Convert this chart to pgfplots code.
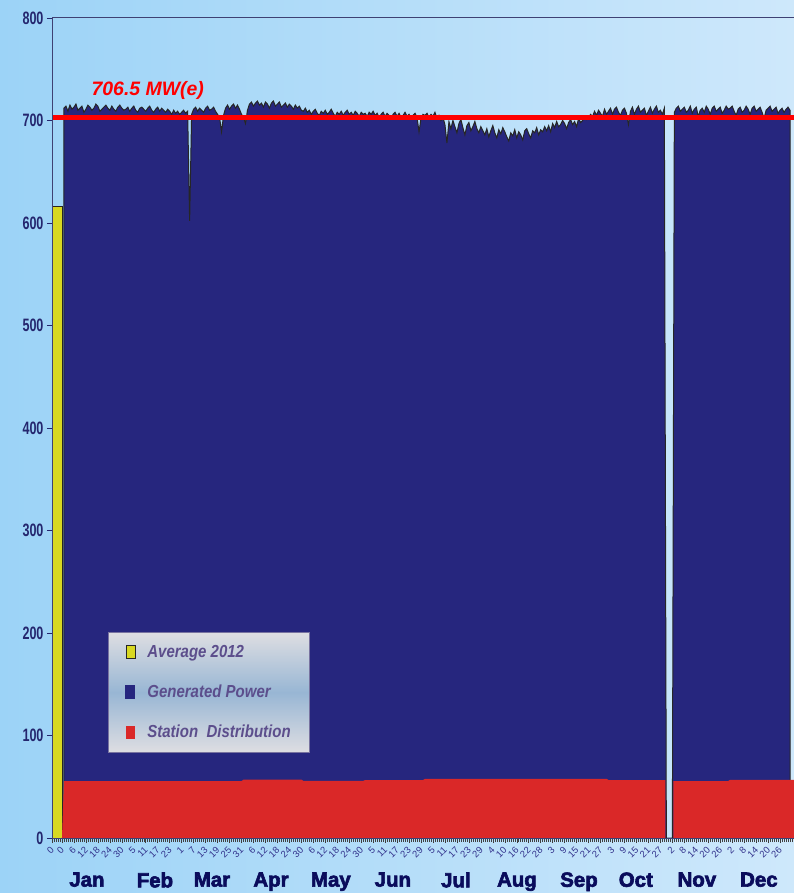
\documentclass[border=0pt]{standalone}
\usepackage{fontspec}
\setmainfont{Liberation Sans}
\newfontfamily\ynumfont[FakeStretch=0.7]{Liberation Sans}
\newfontfamily\legfont[FakeStretch=0.86]{Liberation Sans}
\newfontfamily\monthfont[FakeBold=3]{Liberation Sans}
\usepackage{pgfplots}
\pgfplotsset{compat=1.18}

\definecolor{bgL}{RGB}{156,211,247}
\definecolor{bgR}{RGB}{206,232,251}
\definecolor{genblue}{RGB}{38,38,126}
\definecolor{stred}{RGB}{218,40,40}
\definecolor{avyel}{RGB}{216,216,34}
\definecolor{navy}{RGB}{36,38,110}
\definecolor{daycol}{RGB}{50,50,140}
\definecolor{legtxt}{RGB}{92,78,140}
\definecolor{legtop}{RGB}{222,222,226}
\definecolor{legmid}{RGB}{152,182,212}
\definecolor{legborder}{RGB}{120,115,160}
\definecolor{monthcol}{RGB}{10,12,92}

\pgfplotsset{
  sqleg/.style={legend image code/.code={\draw[##1] (0bp,-6.5bp) rectangle (9bp,6.5bp); \path (19bp,0bp);}},
  sqfill/.style={legend image code/.code={\fill[#1] (0bp,-6.5bp) rectangle (9bp,6.5bp); \path (19bp,0bp);}},
}

\begin{document}
\begin{tikzpicture}
\path[use as bounding box, left color=bgL, right color=bgR] (-52bp,-55bp) rectangle (742bp,838bp);
\begin{axis}[
  width=742bp, height=820bp, scale only axis,
  xmin=-5, xmax=367, ymin=0, ymax=800,
  clip mode=individual,
  axis on top,
  tick pos=left,
  ytick={0,100,...,800},
  xtick={-5,0,6,12,18,24,30,36,42,48,54,60,66,72,78,84,90,96,102,108,114,120,126,132,138,144,150,156,162,168,174,180,186,192,198,204,210,216,222,228,234,240,246,252,258,264,270,276,282,288,294,300,306,312,318,324,330,336,342,348,354,360},
  xticklabels={0,0,6,12,18,24,30,5,11,17,23,1,7,13,19,25,31,6,12,18,24,30,6,12,18,24,30,5,11,17,23,29,5,11,17,23,29,4,10,16,22,28,3,9,15,21,27,3,9,15,21,27,2,8,14,20,26,2,8,14,20,26},
  minor xtick={-5,-4,...,367},
  tick align=outside,
  major tick length=5bp, minor tick length=4bp,
  xtick style={black!75, line width=0.5bp},
  ytick style={navy, line width=0.8bp},
  axis line style={black!75, line width=1bp},
  y axis line style={draw=navy!70!gray},
  /pgf/number format/assume math mode=true,
  yticklabel style={font=\ynumfont\bfseries\fontsize{18}{18}\selectfont, text=navy},
  xticklabel style={font=\fontsize{9.5}{9.5}\selectfont, text=daycol, rotate=45, anchor=east, yshift=-4bp},
  legend style={at={(0.0755,0.2512)}, anchor=north west, draw=legborder, line width=0.8bp,
    top color=legtop, bottom color=legtop, middle color=legmid,
    font=\legfont\bfseries\itshape\fontsize{17.5}{17.5}\selectfont, text=legtxt,
    inner xsep=17bp, inner ysep=11bp, row sep=22bp},
  legend cell align=left,
]
% Average 2012
\addplot[fill=avyel, draw=black!85, line width=0.6bp, sqleg]
  coordinates {(-5,616) (0.3,616)} \closedcycle;
\addlegendentry{Average 2012}

% Generated power, daily
\addplot[fill=genblue, draw=black!85, line width=1bp, sqfill=genblue]
  table[header=false, row sep=\\, x expr=\coordindex+1, y index=0] {
712\\ 714\\ 709\\ 715\\ 711\\ 713\\ 716\\ 710\\ 712\\ 714\\ 708\\ 711\\ 715\\ 713\\ 710\\ 712\\ 716\\ 714\\ 709\\ 711\\ 713\\ 715\\ 712\\ 710\\ 714\\ 711\\ 709\\ 713\\ 715\\ 712\\ 710\\
711\\ 713\\ 709\\ 712\\ 714\\ 710\\ 708\\ 712\\ 713\\ 711\\ 709\\ 712\\ 714\\ 710\\ 708\\ 711\\ 713\\ 709\\ 712\\ 710\\ 708\\ 711\\ 709\\ 706\\ 710\\ 707\\ 709\\ 706\\
708\\ 710\\ 707\\ 709\\ 602\\ 706\\ 711\\ 713\\ 709\\ 712\\ 710\\ 708\\ 712\\ 714\\ 710\\ 711\\ 713\\ 709\\ 706\\ 703\\ 689\\ 705\\ 712\\ 715\\ 711\\ 714\\ 716\\ 712\\ 715\\ 711\\ 706\\
703\\ 697\\ 710\\ 716\\ 718\\ 714\\ 717\\ 719\\ 715\\ 717\\ 713\\ 718\\ 716\\ 712\\ 717\\ 719\\ 714\\ 716\\ 718\\ 713\\ 715\\ 717\\ 713\\ 716\\ 714\\ 711\\ 715\\ 712\\ 714\\ 710\\
709\\ 712\\ 708\\ 710\\ 706\\ 709\\ 711\\ 707\\ 705\\ 709\\ 707\\ 710\\ 706\\ 708\\ 711\\ 707\\ 704\\ 708\\ 706\\ 709\\ 705\\ 708\\ 710\\ 706\\ 708\\ 705\\ 709\\ 707\\ 704\\ 708\\ 706\\
707\\ 704\\ 708\\ 706\\ 709\\ 705\\ 707\\ 703\\ 706\\ 708\\ 704\\ 707\\ 705\\ 702\\ 706\\ 708\\ 704\\ 707\\ 703\\ 705\\ 708\\ 704\\ 706\\ 702\\ 705\\ 707\\ 703\\ 689\\ 702\\ 706\\
705\\ 707\\ 703\\ 706\\ 704\\ 708\\ 702\\ 705\\ 700\\ 703\\ 696\\ 678\\ 699\\ 692\\ 700\\ 694\\ 688\\ 697\\ 701\\ 693\\ 686\\ 695\\ 698\\ 690\\ 694\\ 699\\ 692\\ 688\\ 694\\ 690\\ 686\\
692\\ 684\\ 690\\ 695\\ 688\\ 683\\ 691\\ 687\\ 693\\ 689\\ 684\\ 680\\ 688\\ 685\\ 691\\ 683\\ 689\\ 686\\ 681\\ 690\\ 692\\ 687\\ 683\\ 690\\ 688\\ 693\\ 686\\ 691\\ 689\\ 694\\ 690\\
695\\ 689\\ 697\\ 693\\ 699\\ 694\\ 696\\ 700\\ 697\\ 692\\ 698\\ 701\\ 696\\ 699\\ 694\\ 702\\ 698\\ 700\\ 704\\ 701\\ 703\\ 706\\ 704\\ 709\\ 705\\ 710\\ 707\\ 704\\ 711\\ 706\\
709\\ 712\\ 706\\ 711\\ 713\\ 708\\ 705\\ 710\\ 712\\ 707\\ 696\\ 709\\ 713\\ 706\\ 711\\ 714\\ 708\\ 710\\ 712\\ 705\\ 709\\ 713\\ 707\\ 711\\ 714\\ 708\\ 710\\ 706\\ 712\\ 0\\ 0\\
0\\ 0\\ 708\\ 712\\ 714\\ 709\\ 711\\ 713\\ 708\\ 710\\ 714\\ 707\\ 711\\ 713\\ 704\\ 710\\ 712\\ 708\\ 714\\ 711\\ 706\\ 712\\ 714\\ 709\\ 711\\ 713\\ 707\\ 710\\ 714\\ 711\\
712\\ 714\\ 709\\ 705\\ 711\\ 713\\ 708\\ 710\\ 714\\ 711\\ 706\\ 712\\ 714\\ 709\\ 711\\ 713\\ 708\\ 702\\ 710\\ 712\\ 714\\ 709\\ 711\\ 713\\ 707\\ 710\\ 712\\ 708\\ 711\\ 713\\ 710\\
} \closedcycle;
\addlegendentry{Generated Power}

% Station distribution
\addplot[fill=stred, draw=none, sqfill=stred]
  coordinates {(0,0) (1,55.5) (90,55.5) (91,57) (120,57) (121,55.8) (151,55.8) (152,56.5) (181,56.5)
    (182,57.8) (273,57.8) (274,56.5) (302.5,56.5) (302.5,0) (306.5,0) (306.5,55.6) (334,55.6) (335,56.8) (367,56.8)}
  \closedcycle;
\addlegendentry{Station\ \ Distribution}

% 706.5 MW(e) reference line
\addplot[red, line width=4.5bp, forget plot] coordinates {(-5,703) (367,703)};
\node[font=\bfseries\itshape\fontsize{19.5}{19.5}\selectfont, text=red] at (axis cs:43,729) {706.5 MW(e)};

% month labels
\pgfplotsinvokeforeach{Jan/12.5,Feb/46.6,Mar/75.2,Apr/104.8,May/134.8,Jun/165.9,Jul/197.5,Aug/228.1,Sep/259.2,Oct/287.7,Nov/318.3,Dec/349.4}{
  \pgfplotsextra{\foreach \m/\p in {#1}{\node[font=\monthfont\bfseries\fontsize{20.5}{20.5}\selectfont, text=monthcol, anchor=north, yshift=-31bp] at (axis cs:\p,0) {\m};}}
}
\end{axis}
\end{tikzpicture}
\end{document}
